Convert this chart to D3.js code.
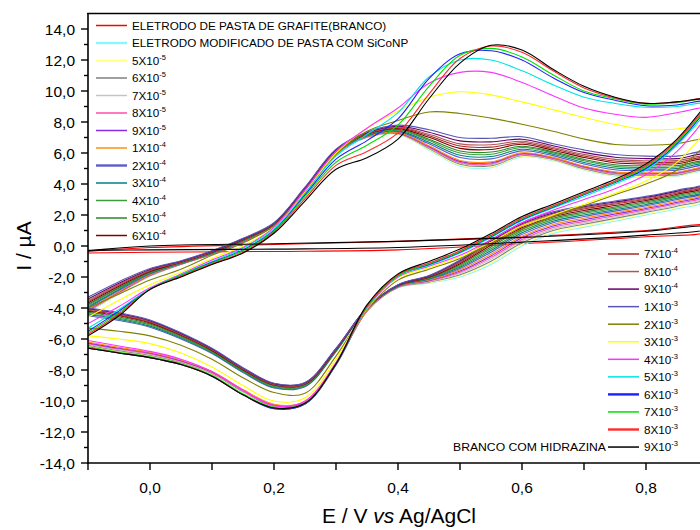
<!DOCTYPE html>
<html><head><meta charset="utf-8">
<script src="https://cdn.jsdelivr.net/npm/d3@7"></script>
<style>body{margin:0;background:#fff}svg{display:block;font-family:Arial,"Liberation Sans",sans-serif}</style>
</head><body><svg id="c" width="700" height="530"></svg>
<script>
// ---------- DATA ----------
// potential grid (V) for the anodic sweep; cathodic sweep uses it reversed (0.9 -> -0.1)
const potentialGrid = [-0.1,-0.05,0,0.05,0.1,0.15,0.2,0.25,0.3,0.35,0.4,0.45,0.5,0.55,0.6,0.65,0.7,0.75,0.8,0.85,0.9];
const blankPotentials = [-0.1,0,0.2,0.4,0.6,0.8,0.9];

const graphiteFwd = [-0.35,-0.1,0.1,0.3,0.6,1.0,1.3];
const graphiteRev = [0.95,0.6,0.15,-0.25,-0.35,-0.4,-0.45];
const hydrazineFwd = [-0.3,0.0,0.15,0.3,0.55,0.95,1.25];
const hydrazineRev = [1.1,0.7,0.25,-0.1,-0.2,-0.25,-0.28];

const fwdMod = [-4.3,-3.1,-1.95,-1.2,-0.55,0.25,1.3,3.5,5.9,7.0,7.2,6.2,5.15,5.05,5.75,5.5,4.9,4.5,4.45,4.5,4.75];
const fwd5e5 = [-4.27,-3.08,-1.94,-1.19,-0.54,0.26,1.31,3.51,5.91,7.01,7.22,6.24,5.21,5.11,5.79,5.53,4.94,4.54,4.49,4.54,4.79];
const fwd6e5 = [-4.23,-3.04,-1.92,-1.18,-0.53,0.27,1.31,3.52,5.92,7.02,7.24,6.29,5.28,5.18,5.84,5.58,4.99,4.6,4.55,4.59,4.84];
const fwd7e5 = [-4.2,-3.02,-1.9,-1.18,-0.53,0.28,1.32,3.53,5.94,7.04,7.26,6.33,5.34,5.24,5.88,5.61,5.03,4.64,4.59,4.63,4.88];
const fwd8e5 = [-4.17,-3.0,-1.89,-1.17,-0.52,0.28,1.33,3.54,5.95,7.05,7.28,6.37,5.39,5.3,5.92,5.64,5.07,4.68,4.63,4.67,4.91];
const fwd9e5 = [-4.13,-2.96,-1.87,-1.16,-0.51,0.29,1.33,3.55,5.96,7.06,7.3,6.42,5.46,5.37,5.97,5.69,5.12,4.74,4.68,4.72,4.96];
const fwd1e4 = [-4.1,-2.94,-1.85,-1.15,-0.5,0.3,1.34,3.56,5.97,7.07,7.32,6.46,5.52,5.43,6.01,5.72,5.16,4.78,4.72,4.76,5.0];
const fwd2e4 = [-4.0,-2.86,-1.8,-1.13,-0.48,0.33,1.36,3.59,6.0,7.1,7.38,6.59,5.71,5.62,6.14,5.83,5.29,4.92,4.86,4.89,5.13];
const fwd3e4 = [-3.92,-2.8,-1.76,-1.11,-0.46,0.35,1.38,3.61,6.03,7.13,7.43,6.69,5.85,5.77,6.24,5.92,5.39,5.03,4.96,4.99,5.23];
const fwd4e4 = [-3.84,-2.73,-1.72,-1.09,-0.44,0.37,1.39,3.64,6.06,7.16,7.48,6.8,6.0,5.92,6.35,6.01,5.5,5.14,5.07,5.1,5.33];
const fwd5e4 = [-3.77,-2.68,-1.69,-1.07,-0.42,0.38,1.41,3.66,6.09,7.19,7.52,6.89,6.13,6.06,6.44,6.08,5.59,5.24,5.17,5.19,5.41];
const fwd6e4 = [-3.68,-2.6,-1.64,-1.05,-0.4,0.41,1.42,3.69,6.12,7.22,7.57,7.01,6.3,6.23,6.56,6.18,5.71,5.37,5.29,5.31,5.53];
const fwd7e4 = [-3.6,-2.54,-1.6,-1.03,-0.38,0.43,1.44,3.71,6.15,7.25,7.62,7.11,6.45,6.38,6.66,6.27,5.81,5.48,5.4,5.41,5.63];
const fwd8e4 = [-3.52,-2.48,-1.56,-1.01,-0.36,0.45,1.46,3.73,6.17,7.27,7.67,7.21,6.59,6.53,6.76,6.36,5.91,5.59,5.5,5.51,5.73];
const fwd9e4 = [-3.42,-2.4,-1.51,-0.98,-0.33,0.47,1.48,3.76,6.21,7.31,7.73,7.34,6.78,6.72,6.89,6.47,6.04,5.73,5.64,5.64,5.85];
const fwd1e3 = [-3.3,-2.3,-1.45,-0.95,-0.3,0.5,1.5,3.8,6.25,7.35,7.8,7.5,7.0,6.95,7.05,6.6,6.2,5.9,5.8,5.8,6.0];
const fwd2e3 = [-4.0,-3.1,-2.2,-1.5,-0.6,0.2,1.3,3.5,5.9,7.4,8.1,8.65,8.55,8.25,7.85,7.4,6.9,6.55,6.5,6.6,6.95];
const fwd3e3 = [-4.6,-3.5,-2.5,-1.7,-0.8,0.0,1.2,3.5,6.0,7.6,8.7,9.6,9.95,9.75,9.3,8.8,8.3,7.85,7.5,7.55,7.8];
const fwd4e3 = [-5.0,-3.9,-2.7,-1.8,-0.9,-0.1,1.2,3.6,6.1,7.6,8.9,10.5,11.2,11.2,10.55,9.7,8.9,8.5,8.3,8.6,8.9];
const fwd5e3 = [-5.3,-4.1,-2.75,-1.85,-1.0,-0.15,1.1,3.4,5.8,7.2,8.6,10.9,12.0,12.0,11.3,10.4,9.6,9.2,8.95,9.0,9.2];
const fwd6e3 = [-5.5,-4.2,-2.8,-1.9,-1.05,-0.25,1.0,3.3,5.6,6.8,8.2,10.8,12.4,12.6,12.0,10.85,9.9,9.4,9.05,9.1,9.35];
const fwd7e3 = [-5.6,-4.3,-2.8,-1.9,-1.1,-0.3,0.95,3.2,5.4,6.5,7.8,10.3,12.3,12.75,12.2,11.05,10.0,9.5,9.15,9.25,9.45];
const fwd8e3 = [-5.7,-4.4,-2.8,-1.95,-1.15,-0.4,0.9,3.05,5.2,6.1,7.3,9.8,12.1,12.9,12.5,11.3,10.2,9.55,9.2,9.3,9.5];
const fwd9e3 = [-5.8,-4.5,-2.8,-2.0,-1.2,-0.45,0.82,2.9,4.95,5.7,6.9,9.5,11.8,12.95,12.65,11.4,10.3,9.6,9.2,9.3,9.5];

// cathodic sweep values, listed from E = 0.9 V down to E = -0.1 V
const revMod = [3.0,2.4,2.0,1.6,1.2,0.8,0.0,-1.2,-2.0,-2.4,-2.7,-4.2,-7.7,-10.2,-10.4,-9.45,-8.3,-7.6,-7.14,-6.85,-6.5];
const rev5e5 = [3.08,2.48,2.08,1.69,1.3,0.9,0.11,-1.09,-1.92,-2.37,-2.69,-4.2,-7.68,-10.17,-10.37,-9.42,-8.27,-7.56,-7.09,-6.8,-6.45];
const rev6e5 = [3.17,2.57,2.17,1.78,1.4,1.0,0.21,-0.98,-1.85,-2.33,-2.67,-4.19,-7.66,-10.14,-10.34,-9.39,-8.23,-7.52,-7.05,-6.75,-6.4];
const rev7e5 = [3.25,2.65,2.25,1.87,1.49,1.09,0.32,-0.86,-1.77,-2.3,-2.66,-4.19,-7.63,-10.12,-10.31,-9.35,-8.2,-7.48,-7.0,-6.7,-6.35];
const rev8e5 = [3.34,2.74,2.34,1.96,1.59,1.19,0.42,-0.75,-1.69,-2.26,-2.64,-4.18,-7.61,-10.09,-10.28,-9.32,-8.16,-7.44,-6.95,-6.65,-6.3];
const rev9e5 = [3.42,2.82,2.42,2.06,1.69,1.29,0.53,-0.64,-1.62,-2.23,-2.63,-4.18,-7.59,-10.06,-10.25,-9.29,-8.13,-7.4,-6.9,-6.6,-6.25];
const rev1e4 = [3.5,2.9,2.5,2.15,1.79,1.39,0.63,-0.53,-1.54,-2.19,-2.62,-4.18,-7.57,-10.03,-10.21,-9.26,-8.1,-7.36,-6.86,-6.54,-6.2];
const rev2e4 = [3.6,3.0,2.6,2.25,1.9,1.5,0.75,-0.4,-1.45,-2.15,-2.6,-4.04,-6.82,-9.08,-9.16,-8.17,-6.94,-6.0,-5.24,-4.81,-4.5];
const rev3e4 = [3.68,3.08,2.68,2.34,2.0,1.6,0.86,-0.29,-1.37,-2.12,-2.59,-4.03,-6.79,-9.04,-9.11,-8.12,-6.89,-5.94,-5.17,-4.73,-4.43];
const rev4e4 = [3.77,3.17,2.77,2.43,2.1,1.7,0.96,-0.18,-1.3,-2.08,-2.57,-4.03,-6.75,-9.0,-9.07,-8.07,-6.84,-5.88,-5.1,-4.66,-4.35];
const rev5e4 = [3.85,3.25,2.85,2.52,2.19,1.79,1.07,-0.06,-1.22,-2.05,-2.56,-4.02,-6.72,-8.95,-9.02,-8.03,-6.79,-5.82,-5.03,-4.58,-4.28];
const rev6e4 = [3.94,3.34,2.94,2.61,2.29,1.89,1.17,0.05,-1.14,-2.01,-2.54,-4.02,-6.69,-8.91,-8.97,-7.98,-6.74,-5.76,-4.96,-4.5,-4.2];
const rev7e4 = [4.02,3.42,3.02,2.71,2.39,1.99,1.28,0.16,-1.07,-1.98,-2.53,-4.01,-6.67,-8.88,-8.94,-7.95,-6.7,-5.72,-4.91,-4.45,-4.15];
const rev8e4 = [4.08,3.48,3.08,2.77,2.46,2.06,1.35,0.24,-1.01,-1.95,-2.52,-4.01,-6.64,-8.86,-8.91,-7.91,-6.67,-5.68,-4.87,-4.4,-4.1];
const rev9e4 = [4.14,3.54,3.14,2.84,2.53,2.13,1.43,0.32,-0.96,-1.93,-2.51,-4.0,-6.62,-8.83,-8.88,-7.88,-6.63,-5.64,-4.82,-4.35,-4.05];
const rev1e3 = [4.2,3.6,3.2,2.9,2.6,2.2,1.5,0.4,-0.9,-1.9,-2.5,-4.0,-6.6,-8.8,-8.85,-7.85,-6.6,-5.6,-4.77,-4.3,-4.0];
const rev2e3 = [6.8,4.9,4.0,3.3,2.6,1.9,1.1,0.15,-0.8,-1.5,-2.2,-4.1,-7.1,-9.5,-9.45,-8.5,-7.3,-6.4,-5.8,-5.5,-5.3];
const rev3e3 = [7.7,5.4,4.2,3.4,2.7,2.0,1.3,0.25,-0.7,-1.4,-2.05,-4.05,-7.3,-9.8,-10.0,-9.0,-7.8,-6.9,-6.3,-6.0,-5.8];
const rev4e3 = [8.6,6.1,4.6,3.7,3.0,2.3,1.5,0.4,-0.6,-1.3,-2.0,-4.0,-7.5,-10.0,-10.3,-9.3,-8.1,-7.3,-6.8,-6.45,-6.1];
const rev5e3 = [8.9,6.5,4.9,4.0,3.2,2.45,1.65,0.55,-0.45,-1.25,-1.95,-3.95,-7.65,-10.2,-10.5,-9.6,-8.4,-7.65,-7.2,-6.9,-6.6];
const rev6e3 = [9.1,6.6,5.0,4.1,3.3,2.5,1.7,0.6,-0.4,-1.2,-1.9,-3.9,-7.65,-10.2,-10.5,-9.6,-8.4,-7.65,-7.2,-6.9,-6.6];
const rev7e3 = [9.2,6.7,5.1,4.15,3.35,2.55,1.75,0.65,-0.35,-1.15,-1.9,-3.9,-7.6,-10.15,-10.4,-9.55,-8.35,-7.6,-7.15,-6.85,-6.5];
const rev8e3 = [9.3,6.8,5.2,4.2,3.4,2.6,1.8,0.7,-0.3,-1.1,-1.85,-3.85,-7.6,-10.15,-10.45,-9.6,-8.4,-7.65,-7.2,-6.9,-6.55];
const rev9e3 = [9.4,6.9,5.3,4.3,3.5,2.7,1.9,0.8,-0.2,-1.0,-1.8,-3.8,-7.6,-10.15,-10.45,-9.6,-8.4,-7.65,-7.2,-6.9,-6.6];

// legend / series labels
const seriesMantissa = ["ELETRODO DE PASTA DE GRAFITE(BRANCO)","ELETRODO MODIFICADO DE PASTA COM SiCoNP",
  "5X10","6X10","7X10","8X10","9X10","1X10","2X10","3X10","4X10","5X10","6X10",
  "7X10","8X10","9X10","1X10","2X10","3X10","4X10","5X10","6X10","7X10","8X10","9X10"];
const seriesExponent = ["","","-5","-5","-5","-5","-5","-4","-4","-4","-4","-4","-4",
  "-4","-4","-4","-3","-3","-3","-3","-3","-3","-3","-3","-3"];
const seriesColors = ["#ff0000","#8ef6f6","#ffff80","#808080","#c4c4c4","#ff4da6","#8a2be2","#ff8c1a","#5c5cc8","#008080","#3c9c3c","#2a862a","#800000",
  "#a52a2a","#b25555","#660066","#5858b4","#808000","#ffff00","#ff33ff","#00e5e5","#2020ff","#00e000","#ff2a2a","#000000"];
const xTickValues = [-0.1,0,0.1,0.2,0.3,0.4,0.5,0.6,0.7,0.8,0.9];
const xTickLabels = ["","0,0","","0,2","","0,4","","0,6","","0,8",""];
const yMajorTicks = [-14,-12,-10,-8,-6,-4,-2,0,2,4,6,8,10,12,14];
const yTickLabels = ["-14,0","-12,0","-10,0","-8,0","-6,0","-4,0","-2,0","0,0","2,0","4,0","6,0","8,0","10,0","12,0","14,0"];
const yMinorTicks = [-13,-11,-9,-7,-5,-3,-1,1,3,5,7,9,11,13];

// ---------- CHART ----------
const svg = d3.select("#c");
const x = d3.scaleLinear().domain([-0.1, 0.9]).range([88, 708]);
const y = d3.scaleLinear().domain([-14, 15]).range([463, 13.5]);

svg.append("defs").append("clipPath").attr("id","clip")
  .append("rect").attr("x",88).attr("y",13.5).attr("width",620).attr("height",449.5);

function cycle(grid, fwd, rev){
  const a = grid.map((e,i)=>[e,fwd[i]]);
  const rg = grid.slice().reverse();
  return a.concat(rg.map((e,i)=>[e,rev[i]]));
}
const modFwd = [fwdMod,fwd5e5,fwd6e5,fwd7e5,fwd8e5,fwd9e5,fwd1e4,fwd2e4,fwd3e4,fwd4e4,fwd5e4,fwd6e4,fwd7e4,fwd8e4,fwd9e4,fwd1e3,fwd2e3,fwd3e3,fwd4e3,fwd5e3,fwd6e3,fwd7e3,fwd8e3,fwd9e3];
const modRev = [revMod,rev5e5,rev6e5,rev7e5,rev8e5,rev9e5,rev1e4,rev2e4,rev3e4,rev4e4,rev5e4,rev6e4,rev7e4,rev8e4,rev9e4,rev1e3,rev2e3,rev3e3,rev4e3,rev5e3,rev6e3,rev7e3,rev8e3,rev9e3];

const curves = [{pts:cycle(blankPotentials, graphiteFwd, graphiteRev), color:seriesColors[0]}];
modFwd.forEach((f,i)=>curves.push({pts:cycle(potentialGrid,f,modRev[i]), color:seriesColors[i+1]}));
curves.push({pts:cycle(blankPotentials, hydrazineFwd, hydrazineRev), color:"#000000"});

const line = d3.line().x(d=>x(d[0])).y(d=>y(d[1])).curve(d3.curveCatmullRom.alpha(0.5));
svg.append("g").attr("clip-path","url(#clip)")
  .selectAll("path").data(curves).join("path")
  .attr("d", d=>line(d.pts)).attr("fill","none")
  .attr("stroke", d=>d.color).attr("stroke-width",1.1);

// axes frame
const ax = svg.append("g").attr("stroke","#000").attr("stroke-width",1.6);
ax.append("line").attr("x1",88).attr("x2",88).attr("y1",13).attr("y2",463.8);
ax.append("line").attr("x1",87.2).attr("x2",710).attr("y1",463).attr("y2",463);
ax.append("line").attr("x1",87.2).attr("x2",710).attr("y1",13.5).attr("y2",13.5);

// x ticks
const xg = svg.append("g");
xg.selectAll("line").data(xTickValues).join("line")
  .attr("x1",d=>x(d)).attr("x2",d=>x(d)).attr("y1",463).attr("y2",470)
  .attr("stroke","#000").attr("stroke-width",1.4);
xg.selectAll("text").data(xTickValues).join("text")
  .attr("x",d=>x(d)).attr("y",493).attr("text-anchor","middle")
  .attr("font-size","15.5px").text((d,i)=>xTickLabels[i]);

// y ticks
const yg = svg.append("g");
yg.selectAll("line.mj").data(yMajorTicks).join("line").attr("class","mj")
  .attr("x1",81).attr("x2",88).attr("y1",d=>y(d)).attr("y2",d=>y(d))
  .attr("stroke","#000").attr("stroke-width",1.4);
yg.selectAll("line.mn").data(yMinorTicks).join("line").attr("class","mn")
  .attr("x1",84).attr("x2",88).attr("y1",d=>y(d)).attr("y2",d=>y(d))
  .attr("stroke","#000").attr("stroke-width",1.4);
yg.selectAll("text").data(yMajorTicks).join("text")
  .attr("x",75).attr("y",d=>y(d)+5.5).attr("text-anchor","end")
  .attr("font-size","15.5px").text((d,i)=>yTickLabels[i]);

// axis titles
const xt = svg.append("text").attr("x",399).attr("y",523).attr("text-anchor","middle").attr("font-size","21px");
xt.append("tspan").text("E / V ");
xt.append("tspan").attr("font-style","italic").text("vs");
xt.append("tspan").text(" Ag/AgCl");
svg.append("text").attr("transform","translate(31,246) rotate(-90)").attr("text-anchor","middle")
  .attr("font-size","21px").text("I / µA");

// legends
const thickLegend = [1,8,21,23];
function legendItem(lx, ly, i){
  svg.append("line").attr("x1",lx).attr("x2",lx+31).attr("y1",ly).attr("y2",ly)
    .attr("stroke",seriesColors[i]).attr("stroke-width",thickLegend.includes(i)?2.4:1.5);
  const t = svg.append("text").attr("x",lx+36).attr("y",ly+4.3).attr("font-size","11.7px");
  t.append("tspan").text(seriesMantissa[i]);
  if (seriesExponent[i]) t.append("tspan").attr("dy",-5).attr("font-size","7.5px").text(seriesExponent[i]);
}
for (let i=0;i<13;i++) legendItem(96, 25.5 + 17.5*i, i);
for (let i=13;i<25;i++) legendItem(608, 254 + 17.55*(i-13), i);
svg.append("text").attr("x",606).attr("y",254+17.55*11+4.3).attr("text-anchor","end")
  .attr("font-size","11.7px").attr("textLength",153).attr("lengthAdjust","spacingAndGlyphs")
  .text("BRANCO COM HIDRAZINA");
</script></body></html>
